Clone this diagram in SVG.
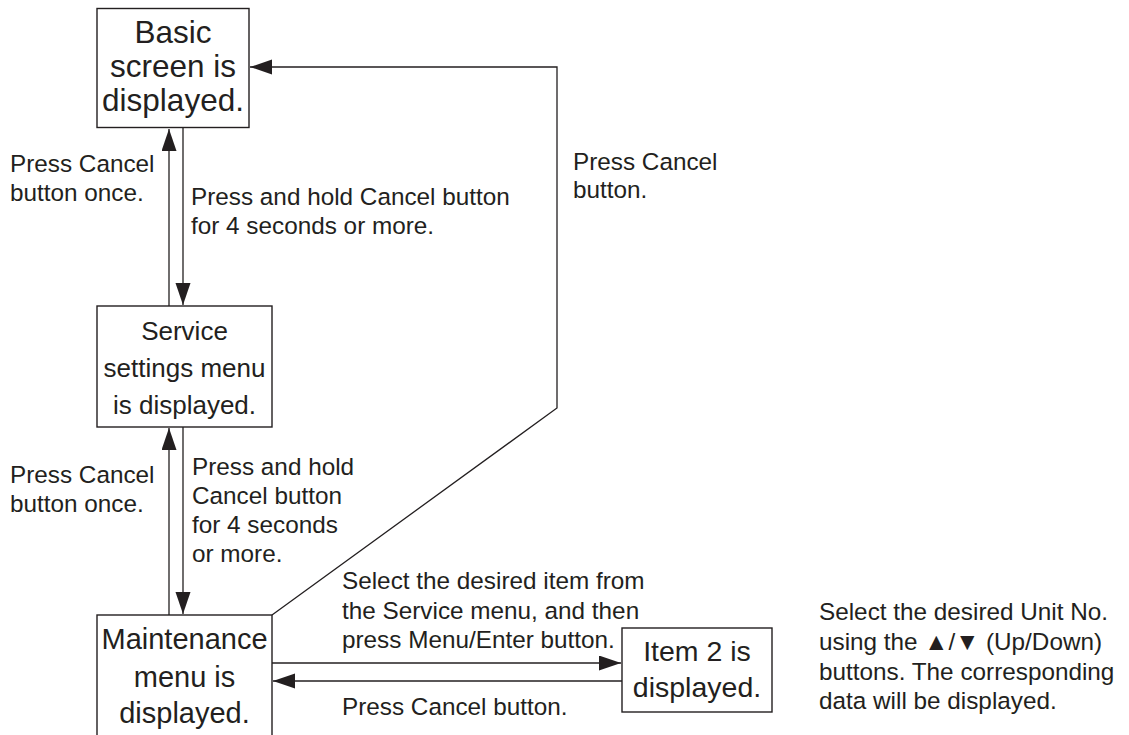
<svg xmlns="http://www.w3.org/2000/svg" width="1129" height="735" viewBox="0 0 1129 735">
<style>
text{font-family:"Liberation Sans",Arial,Helvetica,sans-serif;fill:#231f20}
.box{fill:#fff;stroke:#231f20;stroke-width:1.4}
.ln{fill:none;stroke:#231f20;stroke-width:1.3}
.lbl{font-size:24.3px}
.c{text-anchor:middle}
</style>
<defs>
<marker id="ah" markerUnits="userSpaceOnUse" markerWidth="24" markerHeight="16" refX="22" refY="7.5" orient="auto">
<path d="M0,0 L22,7.5 L0,15 Z" fill="#231f20"/>
</marker>
</defs>
<rect width="1129" height="735" fill="#fff"/>
<g id="connectors">
<line class="ln" x1="169" y1="306" x2="169" y2="129" marker-end="url(#ah)"/>
<line class="ln" x1="183" y1="128" x2="183" y2="305" marker-end="url(#ah)"/>
<line class="ln" x1="169" y1="615" x2="169" y2="428" marker-end="url(#ah)"/>
<line class="ln" x1="183" y1="427" x2="183" y2="614" marker-end="url(#ah)"/>
<polyline class="ln" points="272,615 557,408 557,67 250,67" marker-end="url(#ah)"/>
<line class="ln" x1="272" y1="663" x2="621" y2="663" marker-end="url(#ah)"/>
<line class="ln" x1="622" y1="681" x2="273" y2="681" marker-end="url(#ah)"/>
</g>
<g id="node-basic">
<rect class="box" x="97" y="8.5" width="152" height="119"/>
<text class="c" x="173" y="43" font-size="31.5">Basic</text>
<text class="c" x="173" y="77" font-size="31.5">screen is</text>
<text class="c" x="173" y="111" font-size="31.5">displayed.</text>
</g>
<g id="node-service">
<rect class="box" x="97" y="306" width="175" height="121"/>
<text class="c" x="184.5" y="340" font-size="26">Service</text>
<text class="c" x="184.5" y="377" font-size="26">settings menu</text>
<text class="c" x="184.5" y="414" font-size="26">is displayed.</text>
</g>
<g id="node-maintenance">
<rect class="box" x="97" y="615" width="175" height="130"/>
<text class="c" x="184.5" y="649" font-size="29">Maintenance</text>
<text class="c" x="184.5" y="687" font-size="29">menu is</text>
<text class="c" x="184.5" y="723" font-size="29">displayed.</text>
</g>
<g id="node-item2">
<rect class="box" x="622" y="628" width="150" height="84"/>
<text class="c" x="697" y="661" font-size="28.5">Item 2 is</text>
<text class="c" x="697" y="697" font-size="28.5">displayed.</text>
</g>
<g id="labels">
<text class="lbl" x="10" y="172">Press Cancel</text>
<text class="lbl" x="10" y="201">button once.</text>
<text class="lbl" x="191" y="205">Press and hold Cancel button</text>
<text class="lbl" x="191" y="234">for 4 seconds or more.</text>
<text class="lbl" x="573" y="170">Press Cancel</text>
<text class="lbl" x="573" y="198">button.</text>
<text class="lbl" x="10" y="483">Press Cancel</text>
<text class="lbl" x="10" y="512">button once.</text>
<text class="lbl" x="192" y="475">Press and hold</text>
<text class="lbl" x="192" y="504">Cancel button</text>
<text class="lbl" x="192" y="533">for 4 seconds</text>
<text class="lbl" x="192" y="562">or more.</text>
<text class="lbl" x="342" y="589">Select the desired item from</text>
<text class="lbl" x="342" y="619">the Service menu, and then</text>
<text class="lbl" x="342" y="648">press Menu/Enter button.</text>
<text class="lbl" x="342" y="715">Press Cancel button.</text>
<text class="lbl" x="819" y="620">Select the desired Unit No.</text>
<text class="lbl" x="819" y="650">using the ▲/▼ (Up/Down)</text>
<text class="lbl" x="819" y="680">buttons. The corresponding</text>
<text class="lbl" x="819" y="709">data will be displayed.</text>
</g>
</svg>
